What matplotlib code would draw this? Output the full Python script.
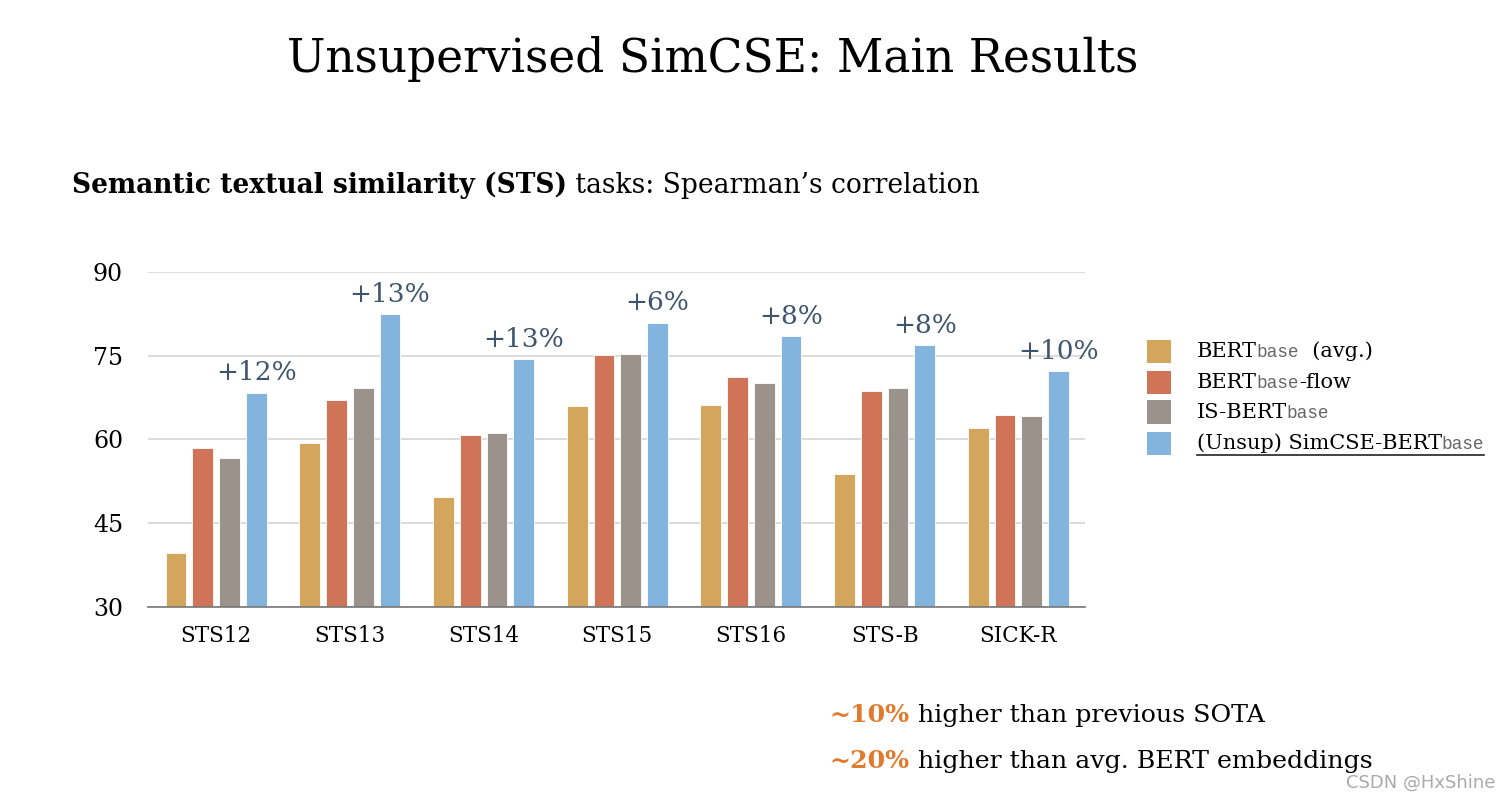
import numpy as np
import matplotlib
matplotlib.use("Agg")
import matplotlib.pyplot as plt
from matplotlib.offsetbox import TextArea, HPacker, AnchoredOffsetbox
from matplotlib.patches import Rectangle
from matplotlib.lines import Line2D

# data (Spearman's correlation, STS tasks)
tasks = ["STS12", "STS13", "STS14", "STS15", "STS16", "STS-B", "SICK-R"]
bert_avg = [39.70, 59.38, 49.67, 66.03, 66.19, 53.87, 62.06]
bert_flow = [58.40, 67.10, 60.85, 75.16, 71.23, 68.66, 64.47]
is_bert = [56.77, 69.24, 61.21, 75.23, 70.16, 69.21, 64.25]
simcse = [68.40, 82.41, 74.38, 80.91, 78.56, 76.85, 72.23]
gains = ["+12%", "+13%", "+13%", "+6%", "+8%", "+8%", "+10%"]
yticks = [30, 45, 60, 75, 90]

series = [bert_avg, bert_flow, is_bert, simcse]
colors = ["#D4A55C", "#CF7456", "#9A928B", "#82B4DD"]
# legend labels: (main, subscript, rest)
labels = [("BERT", "base", "  (avg.)"),
          ("BERT", "base", "-flow"),
          ("IS-BERT", "base", ""),
          ("(Unsup) SimCSE-BERT", "base", "")]

SERIF = "DejaVu Serif"
MONO = "Liberation Mono"

fig = plt.figure(figsize=(15, 8), dpi=100)
ax = fig.add_axes([0.0987, 0.2413, 0.6247, 0.4187])

x = np.arange(len(tasks))
width = 0.155
step = 0.2
for i, (vals, c) in enumerate(zip(series, colors)):
    ax.bar(x + (i - 1.5) * step, vals, width, color=c, edgecolor="white",
           linewidth=0.6, zorder=3)

# gain labels over SimCSE bars
for xi, v, g in zip(x, simcse, gains):
    ax.text(xi + 1.5 * step, v + 1.3, g, ha="center", va="bottom",
            fontsize=19, color="#3F556F", family=SERIF, zorder=4)

ax.set_ylim(30, 90)
ax.set_xlim(-0.51, 6.5)
ax.set_yticks(yticks)
ax.set_xticks(x)
ax.set_xticklabels(tasks, family=SERIF, fontsize=15.5)
for t in ax.get_yticklabels():
    t.set_family(SERIF)
    t.set_fontsize(17)
ax.tick_params(length=0, pad=18)
ax.tick_params(axis="x", pad=13)
ax.grid(axis="y", color="#D5D5D5", linewidth=1.2, zorder=0)
for s in ["top", "right", "left"]:
    ax.spines[s].set_visible(False)
ax.spines["bottom"].set_color("#777777")
ax.spines["bottom"].set_linewidth(1.2)
ax.spines["bottom"].set_zorder(5)

# title and subtitle
fig.text(0.475, 0.926, "Unsupervised SimCSE: Main Results", ha="center",
         va="center", fontsize=32.8, family=SERIF)

def line_box(parts, x0, y0):
    areas = [TextArea(txt, textprops=props) for txt, props in parts]
    box = HPacker(children=areas, align="baseline", pad=0, sep=0)
    anc = AnchoredOffsetbox(loc="center left", child=box, pad=0, borderpad=0,
                            frameon=False, bbox_to_anchor=(x0, y0),
                            bbox_transform=fig.transFigure)
    fig.add_artist(anc)
    return anc

line_box([("Semantic textual similarity (STS)",
           dict(family=SERIF, fontsize=19.1, weight="bold")),
          (" tasks: Spearman\u2019s correlation",
           dict(family=SERIF, fontsize=19.1))], 0.048, 0.768)

# legend, drawn by hand to get the monospace subscript
leg_x = 0.7647
leg_y = [0.561, 0.522, 0.485, 0.446]
rows = []
for (main, sub, rest), c, ly in zip(labels, colors, leg_y):
    fig.add_artist(Rectangle((leg_x, ly - 0.0145), 0.016, 0.029,
                             transform=fig.transFigure, color=c, lw=0))
    parts = [(main, dict(family=SERIF, fontsize=15)),
             (sub, dict(family=MONO, fontsize=12.8, color="#666666"))]
    if rest:
        parts.append((rest, dict(family=SERIF, fontsize=15)))
    rows.append(line_box(parts, leg_x + 0.033, ly))

# underline the SimCSE entry
fig.canvas.draw()
bb = rows[-1].get_window_extent(fig.canvas.get_renderer())
bb = bb.transformed(fig.transFigure.inverted())
fig.add_artist(Line2D([bb.x0, bb.x1], [bb.y0 - 0.002, bb.y0 - 0.002],
                      transform=fig.transFigure, color="#222222", lw=1.2))

# bottom notes
orange = "#E07B2E"
line_box([("~10%", dict(family=SERIF, fontsize=18.2, weight="bold", color=orange)),
          (" higher than previous SOTA", dict(family=SERIF, fontsize=18.2))],
         0.553, 0.106)
line_box([("~20%", dict(family=SERIF, fontsize=18.2, weight="bold", color=orange)),
          (" higher than avg. BERT embeddings", dict(family=SERIF, fontsize=18.2))],
         0.553, 0.049)

fig.text(0.997, 0.022, "CSDN @HxShine", ha="right", va="center", fontsize=13,
         color="#AAAAAA", family="DejaVu Sans")

fig.savefig("out.png", dpi=100)
